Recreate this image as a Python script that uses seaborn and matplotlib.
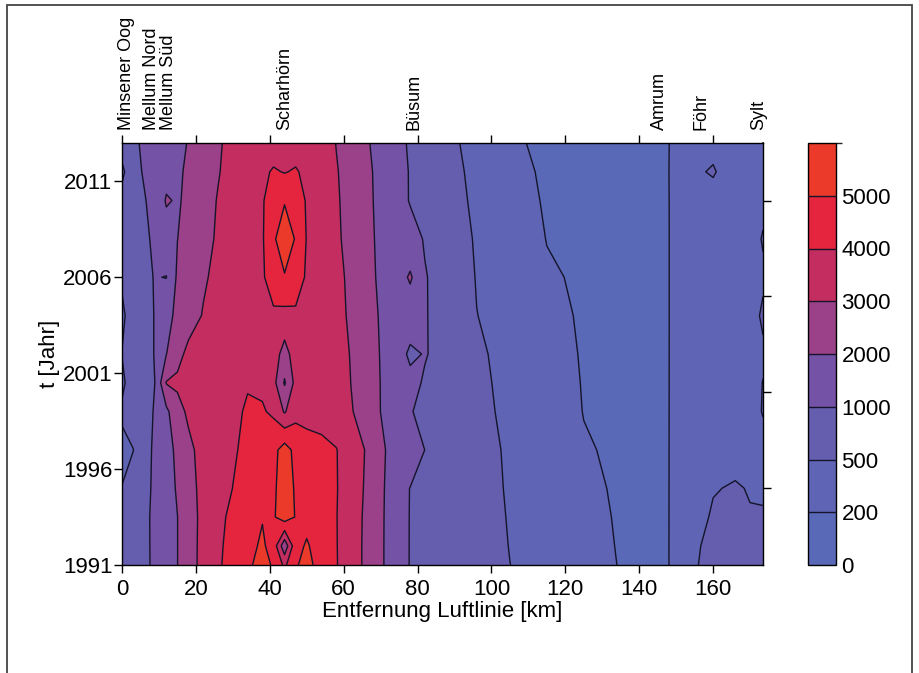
import numpy as np
import pandas as pd
import matplotlib
matplotlib.use("Agg")
import matplotlib.pyplot as plt
import seaborn as sns
from matplotlib.colors import ListedColormap, BoundaryNorm
from matplotlib.patches import Rectangle

sns.set_theme(style="ticks")
plt.rcParams["font.family"] = ["Liberation Sans", "DejaVu Sans"]

# distance along the line of sight [km] and years of the grid
km = [0, 3, 6, 9, 12, 15, 18, 22, 26, 30, 34, 38, 41, 44, 47, 50, 54, 58, 62, 66, 70, 74,
      78, 82, 88, 96, 105, 115, 125, 135, 142, 148, 154, 160, 166, 170, 173.5]
years = [1991, 1992, 1993.5, 1995, 1997, 1999, 2000.5, 2002, 2004, 2006, 2008, 2010, 2011.5, 2013]

# values, one row per year
conc = [
    [650, 780, 900, 1090, 1545, 1990, 2600, 3290, 3860, 4400, 4850, 5300, 4900, 3800, 4900, 5300, 4600, 4050, 3460, 2830, 2170, 1400,
     970, 901, 796, 657, 502, 393, 286, 190, 150, 198, 470, 560, 570, 560, 550],
    [660, 790, 905, 1090, 1545, 1990, 2600, 3280, 3820, 4350, 4700, 5150, 4600, 2300, 4700, 5100, 4550, 4040, 3450, 2830, 2170, 1400,
     970, 898, 791, 648, 492, 384, 275, 185, 150, 198, 460, 550, 560, 545, 540],
    [680, 800, 910, 1090, 1545, 1990, 2600, 3250, 3750, 4230, 4550, 4950, 4900, 5500, 4950, 4700, 4450, 4030, 3450, 2850, 2180, 1400,
     972, 897, 785, 636, 481, 370, 259, 180, 150, 198, 420, 520, 540, 510, 520],
    [510, 700, 880, 1080, 1580, 2100, 2700, 3250, 3650, 4010, 4350, 4550, 4850, 5450, 4900, 4650, 4400, 4050, 3500, 2900, 2200, 1420,
     980, 901, 783, 625, 469, 355, 241, 175, 150, 198, 380, 490, 515, 490, 470],
    [400, 490, 860, 1070, 1650, 2200, 2800, 3300, 3600, 3900, 4200, 4300, 4700, 5450, 4700, 4300, 4200, 4030, 3550, 2950, 2250, 1500,
     1600, 990, 841, 630, 452, 334, 216, 170, 150, 198, 350, 420, 440, 430, 440],
    [560, 720, 880, 1030, 1780, 2700, 3150, 3450, 3650, 3850, 4080, 4080, 3850, 2900, 3700, 3750, 3700, 3550, 3050, 2700, 1990, 1300,
     1020, 917, 774, 583, 433, 312, 195, 165, 150, 198, 330, 390, 420, 430, 510],
    [420, 700, 870, 1005, 3050, 3150, 3300, 3450, 3650, 3800, 3950, 3850, 3300, 1900, 3300, 3600, 3600, 3450, 2990, 2650, 1980, 1250,
     1150, 946, 784, 568, 419, 295, 190, 160, 150, 198, 320, 380, 410, 420, 505],
    [510, 700, 870, 1020, 1980, 2750, 3200, 3400, 3550, 3600, 3650, 3650, 3500, 2600, 3500, 3600, 3550, 3400, 2950, 2600, 1950, 1300,
     900, 1030, 817, 550, 404, 277, 185, 160, 150, 198, 310, 370, 400, 410, 470],
    [420, 700, 870, 1020, 1650, 2250, 2650, 3050, 3350, 3500, 3600, 3700, 3800, 3700, 3800, 3700, 3550, 3300, 2850, 2500, 1900, 1350,
     1300, 1030, 798, 505, 382, 250, 180, 155, 145, 198, 300, 360, 400, 420, 530],
    [560, 720, 880, 1030, 980, 2150, 2500, 2900, 3200, 3450, 3650, 3850, 4600, 4950, 4600, 3850, 3600, 3250, 2800, 2400, 1800, 1350,
     2150, 1030, 776, 483, 360, 222, 175, 150, 145, 198, 300, 360, 400, 420, 470],
    [600, 750, 900, 1100, 1500, 1990, 2350, 2750, 3100, 3400, 3650, 3900, 4900, 5400, 4950, 3950, 3550, 3100, 2800, 2350, 1750, 1300,
     1200, 960, 718, 463, 334, 195, 170, 150, 145, 198, 300, 360, 390, 415, 515],
    [650, 800, 960, 1200, 2100, 1900, 2200, 2650, 3050, 3350, 3600, 3900, 4600, 4950, 4600, 3900, 3500, 3080, 2750, 2300, 1700, 1250,
     967, 833, 633, 441, 308, 175, 165, 145, 145, 198, 320, 420, 380, 400, 450],
    [400, 820, 1050, 1300, 1650, 1900, 2100, 2550, 2950, 3300, 3550, 3800, 4100, 3950, 4100, 3750, 3450, 3050, 2700, 2250, 1700, 1250,
     964, 821, 607, 423, 286, 160, 160, 140, 145, 198, 460, 520, 380, 400, 450],
    [700, 880, 1100, 1350, 1650, 1850, 2030, 2450, 2900, 3250, 3450, 3500, 3500, 3300, 3500, 3500, 3400, 2980, 2650, 2150, 1600, 1200,
     929, 786, 571, 405, 240, 150, 140, 135, 145, 198, 300, 440, 380, 400, 440],
]

levels = [0, 200, 500, 1000, 2000, 3000, 4000, 5000, 6000]
colors = ["#5a69b7", "#5f64b4", "#655eaf", "#7452a5", "#9b418a", "#c42d60", "#e5243d", "#ec3a2a"]

stations = ["Minsener Oog", "Mellum Nord", "Mellum Süd", "Scharhörn", "Büsum", "Amrum", "Föhr", "Sylt"]
station_km = [1.2, 8.0, 12.5, 44.1, 79.1, 145.4, 156.8, 172.3]

df = pd.DataFrame(conc, index=years, columns=km)

cmap = ListedColormap(colors)
norm = BoundaryNorm(levels, ncolors=len(colors))

W, H = 920, 673
fig = plt.figure(figsize=(W / 100, H / 100), dpi=100)
ax = fig.add_axes([122 / W, 1 - 565 / H, 641 / W, 422 / H])
cax = fig.add_axes([808 / W, 1 - 565 / H, 28 / W, 422 / H])

cf = ax.contourf(df.columns.values, df.index.values, df.values, levels=levels, cmap=cmap, norm=norm)
cl = ax.contour(df.columns.values, df.index.values, df.values, levels=levels[1:-1],
                colors="#14142a", linewidths=1.0)

ax.set_xlim(0, 173.5)
ax.set_ylim(1991, 2013)
ax.set_xticks(range(0, 161, 20))
ax.set_yticks([1991, 1996, 2001, 2006, 2011])
ax.tick_params(axis="both", direction="out", length=6, width=1, colors="black",
               labelsize=16, top=True, labeltop=False)
ax.tick_params(axis="x", pad=4)
ax.tick_params(axis="y", pad=1)
for s in ax.spines.values():
    s.set_color("black")
    s.set_linewidth(1)

sec = ax.secondary_yaxis("right")
sec.set_yticks([1995, 2000, 2005, 2010])
sec.set_yticklabels([])
sec.tick_params(direction="out", length=6, width=1, colors="black")

ax.set_xlabel("Entfernung Luftlinie [km]", fontsize=16, labelpad=1, color="black")
ax.set_ylabel("t [Jahr]", fontsize=16, labelpad=2, color="black")

for name, x in zip(stations, station_km):
    ax.annotate(name, xy=(x, 1), xycoords=("data", "axes fraction"), xytext=(0, 9),
                textcoords="offset points", rotation=90, ha="center", va="bottom",
                fontsize=13, color="black")

cb = fig.colorbar(cf, cax=cax, ticks=levels[:-1])
cb.add_lines(cl)
cb.ax.tick_params(length=0, labelsize=16, pad=4, colors="black")
cb.outline.set_edgecolor("black")
cb.outline.set_linewidth(1)

fig.patches.append(Rectangle((7 / W, -0.05), 905 / W, 1.05 - 5 / H, transform=fig.transFigure,
                             fill=False, edgecolor="#444444", linewidth=1.3))

fig.savefig("out.png", dpi=100)
